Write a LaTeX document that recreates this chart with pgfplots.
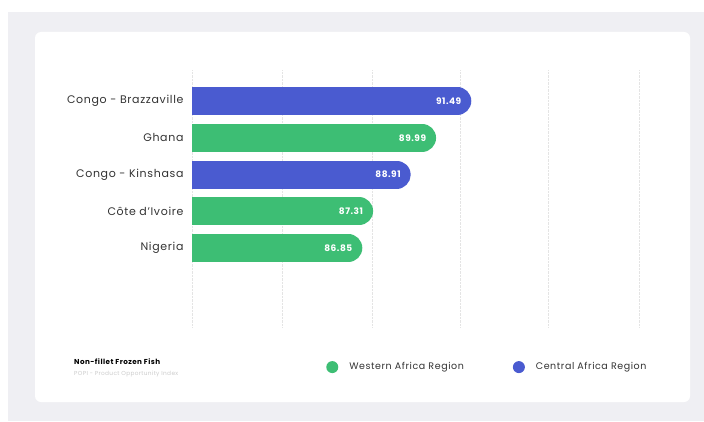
\documentclass[border=0pt]{standalone}
\usepackage{fontspec}
\setmainfont{Poppins}[LetterSpace=6]
\usepackage{pgfplots}
\pgfplotsset{compat=1.18}
\definecolor{cblue}{HTML}{4A5BD0}
\definecolor{cgreen}{HTML}{3DBE74}
\definecolor{bggray}{HTML}{EFEFF3}
\definecolor{txt}{HTML}{333333}
\definecolor{gridc}{HTML}{E4E4E4}
\begin{document}
\begin{tikzpicture}[x=1pt,y=1pt]
\fill[white] (0,0) rectangle (704,421);
\fill[bggray] (8,0) rectangle (704,409);
\fill[white, rounded corners=6pt] (35,19) rectangle (690,389);
\begin{axis}[
  at={(192pt,94pt)}, anchor=south west,
  scale only axis, width=447pt, height=257pt,
  xmin=79.60, xmax=98.63, ymin=-2.15, ymax=4.845,
  axis line style={draw=none},
  major tick length=0pt,
  xtick={79.60,83.43,87.26,91.01,94.78,98.63},
  xticklabels={},
  xmajorgrids,
  grid style={gridc, densely dotted, line width=0.7pt},
  ytick={0,...,4},
  yticklabels={Nigeria, Côte d’Ivoire, Congo - Kinshasa, Ghana, Congo - Brazzaville},
  yticklabel style={font=\fontsize{11}{13}\selectfont, text=txt, xshift=-5pt},
  point meta=x,
  nodes near coords,
  nodes near coords style={anchor=east, inner sep=0pt, xshift=18pt, text=white, font=\fontsize{9}{11}\selectfont\bfseries,
    /pgf/number format/.cd, fixed, fixed zerofill, precision=2, assume math mode=true},
  legend style={at={(0.291,-0.156)}, anchor=west, draw=none, fill=none,
    font=\fontsize{9.5}{12}\selectfont, text=txt, legend columns=2,
    /tikz/every even column/.append style={column sep=46pt}},
  legend cell align=left,
]
\addplot[xcomb, mark=none, draw=cgreen, line width=28pt, line cap=round, xshift=-14pt,
  legend image code/.code={\path[fill=cgreen, draw=none] (0pt,0pt) circle (6pt); \path[draw=none] (-7pt,0pt) (15pt,0pt);}]
  coordinates {(86.85,0) (87.31,1) (89.99,3)};
\addlegendentry{Western Africa Region}
\addplot[xcomb, mark=none, draw=cblue, line width=28pt, line cap=round, xshift=-14pt,
  legend image code/.code={\path[fill=cblue, draw=none] (0pt,0pt) circle (6pt); \path[draw=none] (-7pt,0pt) (15pt,0pt);}]
  coordinates {(88.91,2) (91.49,4)};
\addlegendentry{Central Africa Region}
\end{axis}
\node[anchor=west, font=\fontsize{7.2}{9}\selectfont\bfseries, text=black, inner sep=0pt] at (74,59) {Non-fillet Frozen Fish};
\node[anchor=west, font=\fontsize{5.8}{7}\selectfont, text=black!20, inner sep=0pt] at (74,47) {POPI - Product Opportunity Index};
\end{tikzpicture}
\end{document}
